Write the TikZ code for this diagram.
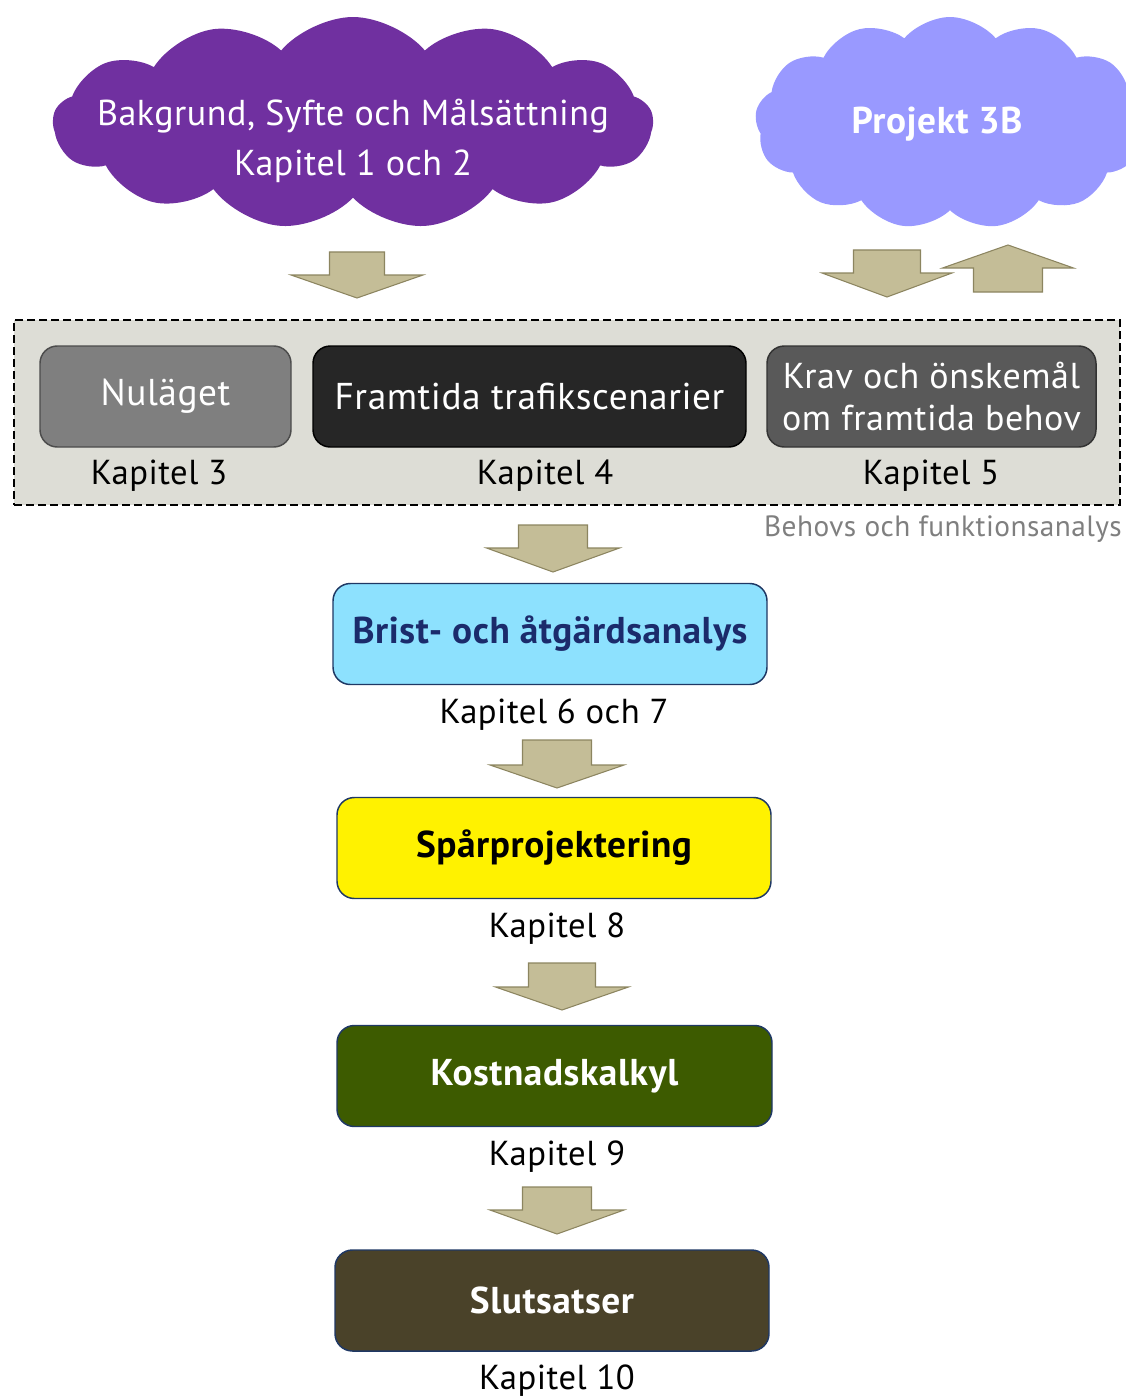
\documentclass[tikz,border=0pt]{standalone}
\usepackage{fontspec}
\setmainfont{PT Sans}[LetterSpace=1.5]
\usetikzlibrary{shapes.symbols}

\definecolor{purplecloud}{HTML}{7030A0}
\definecolor{bluecloud}{HTML}{9999FF}
\definecolor{groupfill}{HTML}{DDDDD6}
\definecolor{nulfill}{HTML}{7F7F7F}
\definecolor{framfill}{HTML}{262626}
\definecolor{kravfill}{HTML}{595959}
\definecolor{bristfill}{HTML}{8DE1FE}
\definecolor{bristtext}{HTML}{1B2B6B}
\definecolor{navyline}{HTML}{1F3864}
\definecolor{kostfill}{HTML}{3D5B00}
\definecolor{slutfill}{HTML}{4A4229}
\definecolor{arrowfill}{HTML}{C4BD97}
\definecolor{arrowline}{HTML}{8C8560}
\definecolor{notegray}{HTML}{7F7F7F}

% block arrow pointing down: centre x, top, stem half width, head half width, shoulder y, tip y
\newcommand\blockdown[6]{%
  \draw[barrow] (#1-#3,#2) -- (#1+#3,#2) -- (#1+#3,#5) -- (#1+#4,#5) -- (#1,#6)
    -- (#1-#4,#5) -- (#1-#3,#5) -- cycle;}
% block arrow pointing up: centre x, bottom, stem half width, head half width, shoulder y, tip y
\newcommand\blockup[6]{%
  \draw[barrow] (#1-#3,#2) -- (#1+#3,#2) -- (#1+#3,#5) -- (#1+#4,#5) -- (#1,#6)
    -- (#1-#4,#5) -- (#1-#3,#5) -- cycle;}

\begin{document}
\begin{tikzpicture}[x=0.75pt,y=-0.75pt,
  barrow/.style={fill=arrowfill, draw=arrowline, line width=0.8pt, line join=miter},
  stage/.style={rounded corners=13pt, line width=1.1pt, minimum width=#1*0.75pt,
    minimum height=101*0.75pt, inner sep=0pt, align=center},
  kap/.style={font=\fontsize{26}{30}\selectfont, text=black, inner sep=0pt},
  bigtext/.style={font=\fontsize{28}{36}\selectfont},
  boldtext/.style={font=\fontsize{28}{36}\selectfont\bfseries},
  puff/.style={cloud, cloud puffs=13, cloud puff arc=100, inner sep=0pt, draw=none}]

\useasboundingbox (0,0) rectangle (1126,1398);
\clip (0,0) rectangle (1126,1398);

% clouds
\node[puff, fill=purplecloud, minimum width=600*0.75pt, minimum height=212*0.75pt] (bakg) at (353,123) {};
\node[text=white, align=center, font=\fontsize{27}{38}\selectfont] (bakgt) at (353,141)
  {Bakgrund, Syfte och Målsättning\\Kapitel 1 och 2};
\node[puff, fill=bluecloud, minimum width=390*0.75pt, minimum height=212*0.75pt] (proj) at (950,123) {};
\node[boldtext, text=white] (projt) at (937,124) {Projekt 3B};

% arrows from the clouds
\blockdown{357}{252}{27.5}{66}{275}{298}
\blockdown{887}{250}{33.5}{65}{273}{297}
\blockup{1008}{292}{34.5}{65.5}{268}{245}

% needs and function analysis group
\node[draw=black, dashed, dash pattern=on 6pt off 3pt, line width=2.2pt, fill=groupfill,
  minimum width=1106*0.75pt, minimum height=185*0.75pt, inner sep=0pt] (group) at (567,412.5) {};

\node[stage=251, fill=nulfill, draw=black!70, text=white, bigtext] (nul) at (165.5,396.5) {Nuläget};
\node[stage=433, fill=framfill, draw=black, text=white, bigtext] (fram) at (529.5,396.5) {Framtida trafikscenarier};
\node[stage=329, fill=kravfill, draw=black!80, text=white, font=\fontsize{27}{32}\selectfont] (krav) at (931.5,396.5)
  {Krav och önskemål\\om framtida behov};

\node[kap] (k3) at (159,476) {Kapitel 3};
\node[kap] (k4) at (545,476) {Kapitel 4};
\node[kap] (k5) at (931,476) {Kapitel 5};

\node[text=notegray, font=\fontsize{22}{26}\selectfont, anchor=east, inner sep=0pt] (note) at (1122,529)
  {Behovs och funktionsanalys};

% main chain
\blockdown{553}{525}{34.5}{66.5}{548}{572}

\node[stage=434, fill=bristfill, draw=navyline, text=bristtext, boldtext] (brist) at (550,634)
  {Brist- och åtgärdsanalys};
\node[kap] (k67) at (554,715) {Kapitel 6 och 7};

\blockdown{557}{740}{34.5}{67}{765}{788}

\node[stage=434, fill=yellow, draw=navyline, text=black, boldtext] (spar) at (554,848) {Spårprojektering};
\node[kap] (k8) at (557,929) {Kapitel 8};

\blockdown{562}{963}{33.5}{66.5}{987}{1010}

\node[stage=435, fill=kostfill, draw=navyline, text=white, boldtext] (kost) at (554.5,1076) {Kostnadskalkyl};
\node[kap] (k9) at (557,1157) {Kapitel 9};

\blockdown{557}{1187}{34.5}{67}{1210}{1234}

\node[stage=434, fill=slutfill, draw=navyline, text=white, boldtext] (slut) at (552,1300.5) {Slutsatser};
\node[kap] (k10) at (557,1381) {Kapitel 10};

\end{tikzpicture}
\end{document}
